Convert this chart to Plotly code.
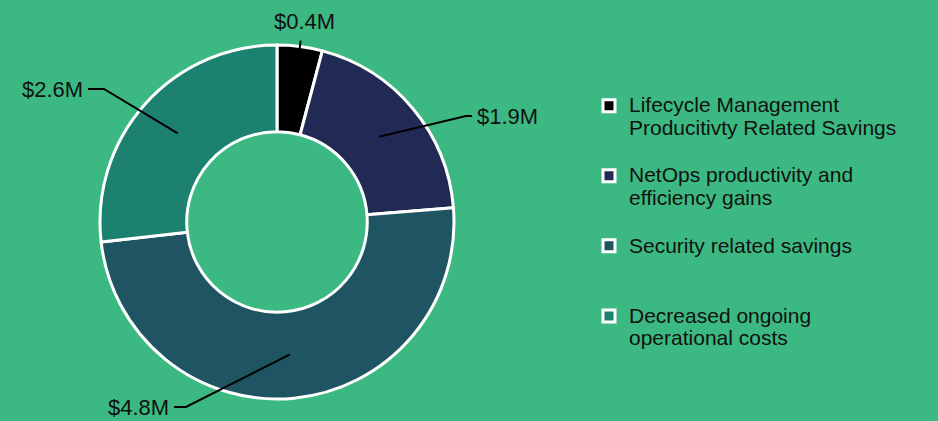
import math
import plotly.graph_objects as go

# data
labels = [
    "Lifecycle Management<br>Producitivty Related Savings",
    "NetOps productivity and<br>efficiency gains",
    "Security related savings",
    "Decreased ongoing<br>operational costs",
]
values = [0.4, 1.9, 4.8, 2.6]
value_text = ["$0.4M", "$1.9M", "$4.8M", "$2.6M"]
colors = ["#000000", "#212A54", "#1F5562", "#1D8170"]

W, H = 938, 421
BG = "#3CB982"
CX, CY, R = 277, 222, 177   # donut centre / outer radius in pixels
HOLE = 0.51

# callout placement (pixels): where the line starts (radius), elbow, tail end, text spot
callouts = [
    dict(r0=171, r1=183, tx=304, ty=22, xanchor="center"),
    dict(r0=133, elbow=(466, 116), tail=(472, 116), tx=475, ty=116, xanchor="left"),
    dict(r0=133, elbow=(186, 407), tail=(174, 407), tx=171, ty=407, xanchor="right"),
    dict(r0=133, elbow=(104, 89), tail=(88, 89), tx=85, ty=89, xanchor="right"),
]


def px(x, y):
    return x / W, 1 - y / H


def legend_text(lab):
    # every entry gets the same height (two text lines + a spacer line)
    lines = lab.split("<br>")
    lines += [" "] * (3 - len(lines))
    return "<br>".join(f"<span style='font-size:21px'>{ln}</span>" for ln in lines)


fig = go.Figure()
fig.add_trace(go.Pie(
    labels=[legend_text(l) for l in labels],
    values=values,
    marker=dict(colors=colors, line=dict(color="white", width=3)),
    hole=HOLE,
    sort=False,
    direction="clockwise",
    rotation=0,
    textinfo="none",
    hoverinfo="value",
    domain=dict(x=[(CX - R) / W, (CX + R) / W], y=[1 - (CY + R) / H, 1 - (CY - R) / H]),
))

# leader lines + value labels, angles taken from the values
total = sum(values)
cum = 0
shapes, annotations = [], []
for v, txt, c in zip(values, value_text, callouts):
    mid = (cum + v / 2) / total * 2 * math.pi
    cum += v
    sx, sy = CX + c["r0"] * math.sin(mid), CY - c["r0"] * math.cos(mid)
    pts = [(sx, sy)]
    if "elbow" in c:
        pts += [c["elbow"], c["tail"]]
    else:
        pts.append((CX + c["r1"] * math.sin(mid), CY - c["r1"] * math.cos(mid)))
    path = "M" + " L".join(f"{px(x, y)[0]:.5f},{px(x, y)[1]:.5f}" for x, y in pts)
    shapes.append(dict(type="path", xref="paper", yref="paper", path=path,
                       line=dict(color="black", width=2)))
    ax, ay = px(c["tx"], c["ty"])
    annotations.append(dict(x=ax, y=ay, xref="paper", yref="paper", text=txt,
                            showarrow=False, xanchor=c["xanchor"], yanchor="middle",
                            font=dict(size=22, color="#111111")))

fig.update_layout(
    width=W, height=H,
    margin=dict(l=0, r=0, t=0, b=0),
    paper_bgcolor=BG, plot_bgcolor=BG,
    font=dict(family="Liberation Sans, Arial, sans-serif", color="#111111"),
    shapes=shapes,
    annotations=annotations,
    legend=dict(x=589 / W, y=1 - 88 / H, xanchor="left", yanchor="top",
                font=dict(size=17.2, color="#111111"), valign="top",
                bgcolor="rgba(0,0,0,0)"),
)

fig.write_html("out.html", config={"displayModeBar": False},
               post_script="document.body.style.margin='0px';"
               "document.body.style.overflow='hidden';")
